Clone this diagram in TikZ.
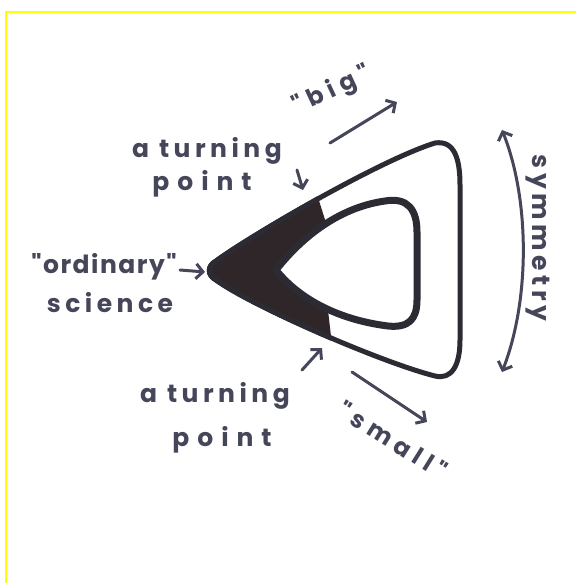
\documentclass[tikz,border=0pt]{standalone}
\usepackage{fontspec}
\setmainfont{Poppins}
\newfontfamily\handfont[LetterSpace=18]{Poppins}
\newfontfamily\handwide[LetterSpace=32]{Poppins}
\newfontfamily\handmid[LetterSpace=24]{Poppins}
\newfontfamily\handnarrow[LetterSpace=6]{Poppins}
\usetikzlibrary{arrows.meta}
\definecolor{ink}{HTML}{45465A}
\definecolor{loopink}{HTML}{2C2B34}
\definecolor{blk}{HTML}{2E2628}
\definecolor{frame}{HTML}{FFFF00}
\begin{document}
\begin{tikzpicture}[x=1pt,y=-1pt,
  hand/.style={text=ink,font=\handfont\fontsize{25}{28}\selectfont\bfseries,inner sep=0pt,anchor=base},
  handw/.style={hand,font=\handwide\fontsize{25}{28}\selectfont\bfseries},
  handm/.style={hand,font=\handmid\fontsize{24}{28}\selectfont\bfseries},
  handn/.style={hand,font=\handnarrow\fontsize{25}{28}\selectfont\bfseries},
  arr/.style={draw=ink,line width=3pt,line cap=round,line join=round,
    -{Straight Barb[length=7pt,width=15pt]}},
  dblarr/.style={draw=ink,line width=3pt,line cap=round,line join=round,
    {Straight Barb[length=7pt,width=15pt]}-{Straight Barb[length=7pt,width=15pt]}},
  outerline/.style={draw=loopink,line width=5pt,line join=round},
  innerline/.style={draw=loopink,line width=7pt,line join=round}]
\useasboundingbox (0,0) rectangle (576,583);
\fill[white] (0,0) rectangle (576,583);
% frame
\draw[frame,line width=2.5pt] (6,583) -- (6,12) -- (576,12);

% filled band (dark part of the loop)
\begin{scope}
  \clip (100,100) -- (315,188) -- (327,226) -- (328,310) -- (332,345) -- (100,460) -- cycle;
  \fill[blk] (216,261) .. controls (250,236) and (380,160) .. (435,143)
     .. controls (455,140) and (460,160) .. (460,185) -- (460,340)
     .. controls (460,365) and (452,380) .. (435,376)
     .. controls (380,362) and (252,306) .. (216,280)
     .. controls (207,275) and (207,266) .. cycle;
  \draw[outerline] (216,261) .. controls (250,236) and (380,160) .. (435,143)
     .. controls (455,140) and (460,160) .. (460,185) -- (460,340)
     .. controls (460,365) and (452,380) .. (435,376)
     .. controls (380,362) and (252,306) .. (216,280)
     .. controls (207,275) and (207,266) .. cycle;
\end{scope}
% outer loop
\draw[outerline] (216,261) .. controls (250,236) and (380,160) .. (435,143)
     .. controls (455,140) and (460,160) .. (460,185) -- (460,340)
     .. controls (460,365) and (452,380) .. (435,376)
     .. controls (380,362) and (252,306) .. (216,280)
     .. controls (207,275) and (207,266) .. cycle;
% inner loop
\draw[innerline,fill=white] (276,270) .. controls (298,242) and (335,208) .. (385,201)
     .. controls (408,197) and (417,210) .. (417,232) -- (417,300)
     .. controls (417,320) and (408,328) .. (388,326)
     .. controls (340,320) and (300,300) .. cycle;

% labels
\node[hand] (tpa1) at (207,157) {a turning};
\node[handw] (tpa2) at (202,190) {point};
\node[handn] (ord1) at (104,273) {"ordinary"};
\node[hand] (ord2) at (110,312) {science};
\node[hand] (tpb1) at (215,402) {a turning};
\node[handw] (tpb2) at (222,446) {point};
\node[handm,anchor=center,rotate=25] (big) at (332,91) {"big"};
\node[handm,anchor=center,rotate=-32] (small) at (393,440) {"small"};
\node[hand,anchor=center,rotate=-90] (sym) at (538,238) {symmetry};

% arrows
\coordinate (c1s) at (297,170); \coordinate (c1e) at (303,190);
\coordinate (c2s) at (302,370); \coordinate (c2e) at (322,348);
\coordinate (c3s) at (180,270); \coordinate (c3e) at (205,272);
\coordinate (c4s) at (330,143); \coordinate (c4e) at (397,102);
\coordinate (c5s) at (352,372); \coordinate (c5e) at (427,422);
\coordinate (c6s) at (502,130); \coordinate (c6e) at (502,372);
\draw[arr] (c1s) -- (c1e);
\draw[arr] (c2s) -- (c2e);
\draw[arr] (c3s) -- (c3e);
\draw[arr] (c4s) -- (c4e);
\draw[arr] (c5s) -- (c5e);
\draw[dblarr] (c6s) .. controls (530,200) and (530,300) .. (c6e);
\end{tikzpicture}
\end{document}
